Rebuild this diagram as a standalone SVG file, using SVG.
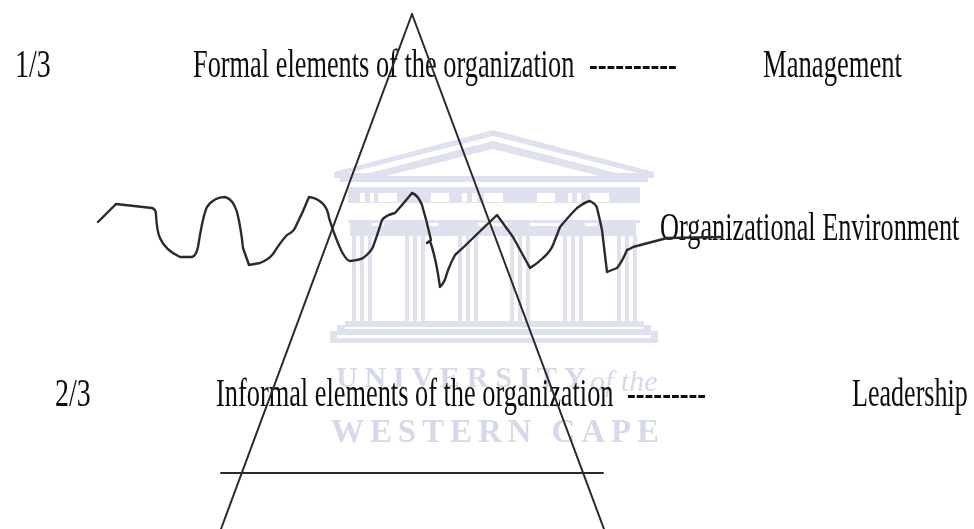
<svg xmlns="http://www.w3.org/2000/svg" width="974" height="529" viewBox="0 0 974 529">
<style>
.t{font-family:"Liberation Serif","Times New Roman",serif;font-size:40px;fill:#111}
.w{font-family:"Liberation Serif","Times New Roman",serif;fill:#d6d9ea;font-weight:bold}
.l{fill:none;stroke:#2b2b2b;stroke-width:2;stroke-linecap:round;stroke-linejoin:round}
.v{stroke-width:2.4}
.b{fill:#dfe1ef}
.g{fill:#fff}
</style>
<defs><filter id="s" x="-5%" y="-5%" width="110%" height="110%"><feGaussianBlur stdDeviation="0.5"/></filter>
<g id="col"><rect x="0" y="236" width="4" height="85" class="b"/><rect x="8" y="236" width="4" height="85" class="b"/><rect x="16" y="236" width="4" height="85" class="b"/></g></defs>
<rect width="974" height="529" fill="#fff"/>
<g id="watermark" filter="url(#s)">
<path class="b" d="M493 130L654 172V178H334V172Z"/>
<path class="g" d="M493 136L638 173H348Z"/>
<path class="b" d="M493 141L624 175H362Z"/>
<path class="g" d="M493 149L600 176H386Z"/>
<rect class="b" x="340" y="178" width="308" height="4"/>
<rect class="b" x="348" y="187" width="292" height="16"/>
<g class="g"><rect x="378" y="193" width="19" height="9"/><rect x="431" y="193" width="18" height="9"/><rect x="484" y="193" width="19" height="9"/><rect x="537" y="193" width="18" height="9"/><rect x="590" y="193" width="19" height="9"/><rect x="360" y="193" width="5" height="9"/><rect x="370" y="193" width="4" height="9"/><rect x="462" y="193" width="5" height="9"/><rect x="472" y="193" width="5" height="9"/><rect x="568" y="193" width="4" height="9"/><rect x="577" y="193" width="4" height="9"/></g>
<rect class="b" x="348" y="220" width="292" height="3"/>
<rect class="b" x="350" y="223" width="286" height="13"/>
<g class="g"><rect x="372" y="223" width="12" height="3"/><rect x="426" y="223" width="12" height="3"/><rect x="478" y="223" width="30" height="3"/><rect x="530" y="223" width="30" height="3"/><rect x="585" y="223" width="12" height="3"/></g>
<use href="#col" x="352"/><use href="#col" x="405"/><use href="#col" x="458"/><use href="#col" x="510"/><use href="#col" x="563"/><use href="#col" x="617"/>
<path class="b" d="M345 321H644V325H651V331H658V343H330V331H337V325H345Z"/>
<g class="g"><rect x="345" y="327" width="298" height="2"/><rect x="337" y="335" width="314" height="3"/></g>
<text class="w" x="336" y="387" font-size="30" letter-spacing="6.8">UNIVERSITY</text>
<text x="590" y="391" font-family="Liberation Serif,serif" font-style="italic" font-size="30" fill="#d6d9ea">of the</text>
<text class="w" x="331" y="442" font-size="33" letter-spacing="5.9">WESTERN CAPE</text>
</g>
<g id="labels" filter="url(#s)">
<g id="node-1-3"><text class="t" transform="translate(15 77) scale(.7 1)">1/3</text></g>
<g id="node-formal"><text class="t" transform="translate(193 77) scale(.659 1)">Formal elements of the organization</text></g>
<g id="node-dash-1"><text class="t" transform="translate(589 77) scale(.66 1)">----------</text></g>
<g id="node-management"><text class="t" transform="translate(763 77) scale(.666 1)">Management</text></g>
<g id="node-environment"><text class="t" transform="translate(660 240) scale(.657 1)">Organizational Environment</text></g>
<g id="node-2-3"><text class="t" transform="translate(55 406) scale(.7 1)">2/3</text></g>
<g id="node-informal"><text class="t" transform="translate(216 406) scale(.659 1)">Informal elements of the organization</text></g>
<g id="node-dash-2"><text class="t" transform="translate(627 406) scale(.66 1)">---------</text></g>
<g id="node-leadership"><text class="t" transform="translate(852 406) scale(.652 1)">Leadership</text></g>
</g>
<g id="connectors" filter="url(#s)">
<path class="l" d="M412 14L221 529"/>
<path class="l" d="M412 14L604 529"/>
<path class="l" d="M221 473H603"/>
<path class="l v" d="M98 222L116 204L152 208Q156 209 156 215Q157 232 160 238Q165 250 180 257H192Q196 256 198 247Q203 215 207 207Q214 197 225 197Q233 199 237 212Q241 228 243 248L249 265L260 263Q268 260 273 254Q282 240 287 235Q293 232 295 228Q303 212 309 197Q318 198 324 205Q328 210 329 218Q336 240 342 252Q347 261 350 261Q360 260 363 258Q370 253 373 247Q378 233 382 220Q386 215 395 213Q404 203 412 193Q418 195 422 205Q427 222 431 240L427 243L430 241Q436 258 440 287Q445 282 447 273Q451 262 455 255Q466 245 473 238L497 215L513 237L530 268Q538 263 543 258Q550 252 553 245Q557 235 560 227Q570 215 577 208Q585 202 590 201Q596 204 597 208Q600 220 602 230L607 272L617 268Q622 262 627 250Q630 249 633 247L667 238L722 237"/>
</g>
</svg>
